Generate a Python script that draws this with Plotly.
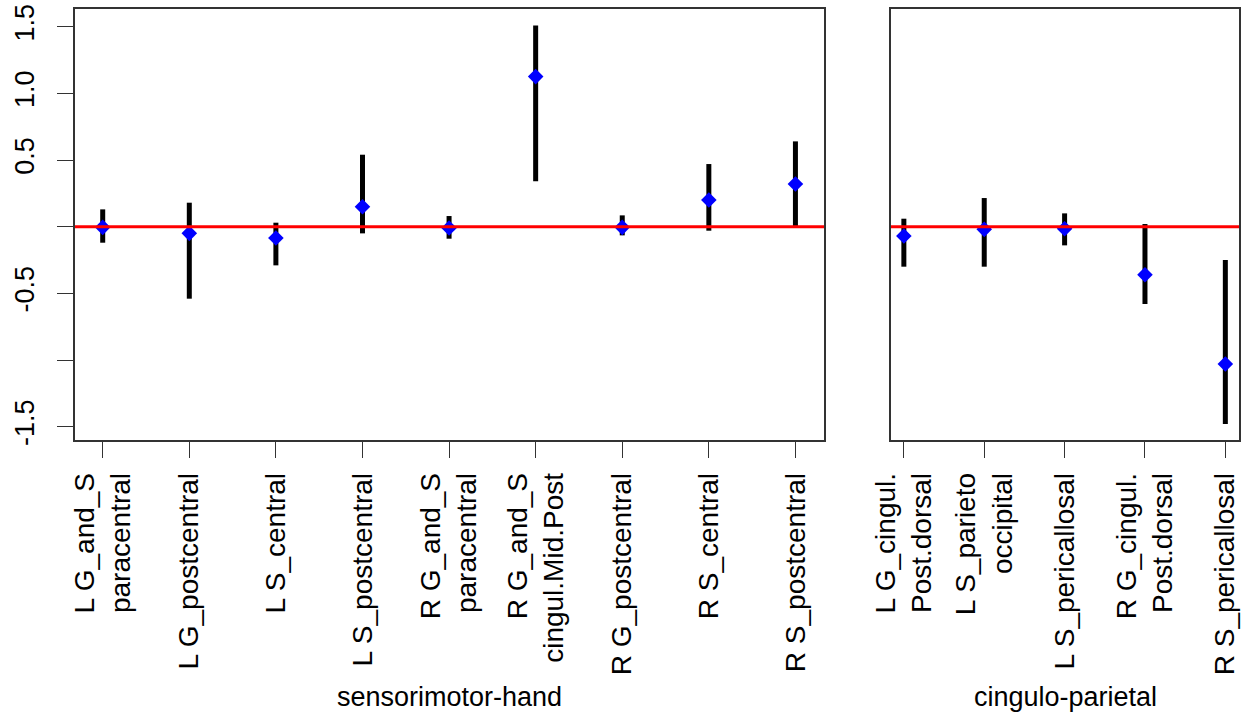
import plotly.graph_objects as go

# ---- data ----
sm_labels = ["L G_and_S\nparacentral", "L G_postcentral", "L S_central", "L S_postcentral",
             "R G_and_S\nparacentral", "R G_and_S\ncingul.Mid.Post", "R G_postcentral",
             "R S_central", "R S_postcentral"]
sm_est = [-0.005, -0.05, -0.085, 0.15, -0.01, 1.126, -0.005, 0.20, 0.32]
sm_lo = [-0.12, -0.54, -0.29, -0.05, -0.09, 0.34, -0.065, -0.03, -0.01]
sm_hi = [0.13, 0.18, 0.03, 0.54, 0.08, 1.51, 0.085, 0.47, 0.64]

cp_labels = ["L G_cingul.\nPost.dorsal", "L S_parieto\noccipital", "L S_pericallosal",
             "R G_cingul.\nPost.dorsal", "R S_pericallosal"]
cp_est = [-0.07, -0.02, -0.015, -0.36, -1.03]
cp_lo = [-0.30, -0.30, -0.14, -0.58, -1.48]
cp_hi = [0.06, 0.215, 0.10, 0.02, -0.25]

group_names = ["sensorimotor-hand", "cingulo-parietal"]
y_tickvals = [-1.5, -1.0, -0.5, 0, 0.5, 1.0, 1.5]
y_ticktext = ["-1.5", "", "-0.5", "", "0.5", "1.0", "1.5"]
y_range = [-1.60, 1.633]

W, H = 1244, 714
FONT = "Liberation Sans, Arial, sans-serif"
FS_TICK = 28
FS_Y = 27
FS_GROUP = 27

fig = go.Figure()

panels = [
    (sm_labels, sm_est, sm_lo, sm_hi, "x", "y"),
    (cp_labels, cp_est, cp_lo, cp_hi, "x2", "y2"),
]
for labels, est, lo, hi, xa, ya in panels:
    xs = list(range(1, len(labels) + 1))
    fig.add_trace(go.Scatter(
        x=xs, y=est, mode="markers", xaxis=xa, yaxis=ya,
        marker=dict(symbol="diamond", size=12, color="#0000FF", line=dict(width=0)),
        error_y=dict(type="data", symmetric=False,
                     array=[h - e for h, e in zip(hi, est)],
                     arrayminus=[e - l for e, l in zip(est, lo)],
                     color="black", thickness=5, width=0),
        showlegend=False, hoverinfo="skip",
    ))

# domains in paper fractions
x1d = [75 / W, 824 / W]
x2d = [891 / W, 1239 / W]
yd = [1 - 440 / H, 1 - 9 / H]

axis_common = dict(showgrid=False, zeroline=False, showline=True, mirror=True,
                   linecolor="#333333", linewidth=1.5, ticks="outside", ticklen=16,
                   tickwidth=1.3, tickcolor="#333333", automargin=False)
xfont = dict(family=FONT, size=FS_TICK, color="black")

fig.update_layout(
    width=W, height=H, margin=dict(l=0, r=0, t=0, b=0),
    paper_bgcolor="white", plot_bgcolor="white",
    xaxis=dict(domain=x1d, anchor="y", range=[0.68, 9.33],
               tickvals=list(range(1, len(sm_labels) + 1)),
               ticktext=[s.replace("\n", "<br>") for s in sm_labels],
               tickangle=-90, ticklabelstandoff=4, tickfont=xfont, **axis_common),
    xaxis2=dict(domain=x2d, anchor="y2", range=[0.84, 5.17],
                tickvals=list(range(1, len(cp_labels) + 1)),
                ticktext=[s.replace("\n", "<br>") for s in cp_labels],
                tickangle=-90, ticklabelstandoff=4, tickfont=xfont, **axis_common),
    yaxis=dict(domain=yd, anchor="x", range=y_range, tickvals=y_tickvals,
               ticktext=y_ticktext, tickangle=-90, ticklabelstandoff=12,
               tickfont=dict(family=FONT, size=FS_Y, color="black"), **axis_common),
    yaxis2=dict(domain=yd, anchor="x2", range=y_range, showticklabels=False,
                showgrid=False, zeroline=False, showline=True, mirror=True,
                linecolor="#333333", linewidth=1.5, ticks="", automargin=False),
)

# reference line at zero in both panels
for xr, yr in [("x domain", "y"), ("x2 domain", "y2")]:
    fig.add_shape(type="line", xref=xr, yref=yr, x0=0, x1=1, y0=0, y1=0,
                  line=dict(color="#FF0000", width=3), layer="above")

# group labels
for name, dom in zip(group_names, [x1d, x2d]):
    fig.add_annotation(text=name, xref="paper", yref="paper",
                       x=(dom[0] + dom[1]) / 2, y=1 - 697 / H,
                       xanchor="center", yanchor="middle", showarrow=False,
                       font=dict(family=FONT, size=FS_GROUP, color="black"))

fig.write_html("out.html")
